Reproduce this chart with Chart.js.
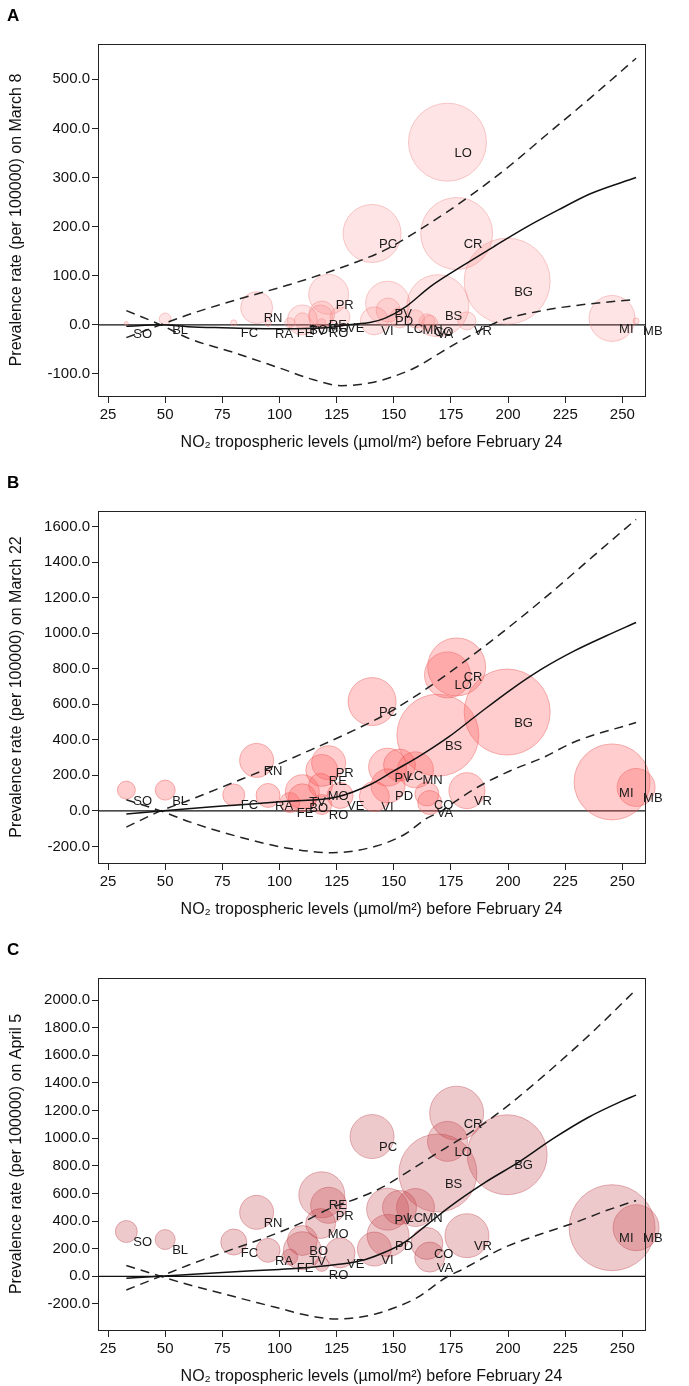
<!DOCTYPE html>
<html>
<head>
<meta charset="utf-8">
<title>Prevalence vs NO2</title>
<script src="https://cdn.jsdelivr.net/npm/chart.js@4.4.1/dist/chart.umd.min.js"></script>
<style>
    body { margin: 0; background: #fff; }
    .panel { position: absolute; left: 0; width: 689px; height: 452px; }
</style>
</head>
<body>
<div class="panel" style="top:0px"><canvas id="chartA" width="689" height="452"></canvas></div>
<div class="panel" style="top:467px"><canvas id="chartB" width="689" height="452"></canvas></div>
<div class="panel" style="top:934px"><canvas id="chartC" width="689" height="452"></canvas></div>
<script>
// Province codes and NO2 levels (umol/m2) before February 24
const provinces = ['SO','BL','FC','RN','RA','FE','TV','BO','MO','RE','RO','PR','VE','PC','VI','PV','PD','LC','MN','CO','VA','BS','LO','CR','VR','BG','MI','MB'];
const no2Levels = [33, 50, 80, 90, 95, 104.5, 110, 110, 118, 118.5, 118.5, 121.5, 126.5, 140.5, 141.5, 147.3, 147.5, 152.5, 159.5, 164.5, 165.7, 169.3, 173.5, 177.5, 182, 199.6, 245.5, 256];
const xTicks = [25, 50, 75, 100, 125, 150, 175, 200, 225, 250];

// Panel A - March 8
const yTicksA = [-100, 0, 100, 200, 300, 400, 500];
const prevMarch8  = [3, 12, 4, 35, 3, 4, 8, 10, 16, 22, 4, 62, 16, 186, 8, 44, 30, 14, 12, 6, 3, 39, 372, 186, 8, 89, 13, 8];
const casesMarch8 = [2, 19, 5, 138, 5, 14, 35, 122, 78, 91, 9, 216, 54, 455, 106, 262, 78, 54, 44, 35, 35, 520, 823, 701, 44, 1000, 286, 5];
const fitXA   = [33, 48, 60, 75, 100, 120, 130, 140, 146, 155, 166, 180, 194, 208, 222, 236, 256];
const fitYA   = [-3, 0, -4, -6, -8, -6, 0, 5, 13, 36, 78, 120, 160, 199, 234, 267, 300];
const upperXA = [33, 48, 61, 82, 103, 118, 132, 146, 160, 174, 187, 201, 215, 238, 256];
const upperYA = [-26, 0, 22, 52, 80, 102, 125, 152, 190, 232, 275, 325, 380, 470, 543];
const lowerXA = [33, 48, 61, 79, 100, 115, 127, 140, 150, 159, 171, 183, 196, 215, 229, 256];
const lowerYA = [29, 0, -29, -55, -88, -112, -124, -118, -105, -88, -55, -23, 7, 29, 39, 52];

// Panel B - March 22
const yTicksB = [-200, 0, 200, 400, 600, 800, 1000, 1200, 1400, 1600];
const prevMarch22  = [117, 117, 90, 284, 87, 47, 108, 74, 144, 228, 36, 271, 87, 615, 81, 246, 141, 258, 231, 95, 47, 426, 765, 810, 114, 556, 163, 132];
const casesMarch22 = [285, 352, 425, 1016, 506, 352, 1016, 689, 506, 900, 352, 1016, 594, 2025, 791, 1269, 1016, 900, 1139, 506, 506, 5909, 1859, 2956, 1139, 6500, 5076, 1269];
const fitXB   = [33, 48, 75, 103, 125, 140, 150, 160, 174, 187, 201, 215, 229, 243, 256];
const fitYB   = [-18, 0, 27, 54, 78, 150, 225, 298, 416, 545, 680, 800, 900, 985, 1060];
const upperXB = [33, 48, 61, 82, 97, 114, 132, 146, 160, 174, 187, 201, 219, 237, 256];
const upperYB = [-91, 0, 63, 171, 250, 345, 450, 540, 650, 775, 900, 1040, 1230, 1430, 1640];
const lowerXB = [33, 48, 61, 82, 103, 123, 142, 155, 164, 171, 176, 187, 201, 215, 229, 256];
const lowerYB = [63, 0, -63, -145, -208, -235, -199, -130, -45, 0, 45, 136, 226, 298, 388, 497];

// Panel C - April 5
const yTicksC = [-200, 0, 200, 400, 600, 800, 1000, 1200, 1400, 1600, 1800, 2000];
const prevApril5  = [324, 266, 248, 463, 188, 139, 185, 259, 382, 590, 86, 514, 169, 1012, 197, 486, 296, 498, 498, 238, 139, 748, 977, 1181, 294, 880, 352, 352];
const casesApril5 = [654, 541, 914, 1563, 779, 346, 1952, 1217, 1217, 2861, 265, 1752, 1217, 2618, 1563, 2385, 2385, 1563, 1952, 1385, 1217, 8226, 2163, 3943, 2618, 8653, 10000, 2861];
const fitXC   = [33, 48, 75, 100, 110, 125, 135, 145, 155, 165, 175, 190, 205, 220, 235, 250, 256];
const fitYC   = [-14, 0, 28, 50, 60, 85, 110, 167, 250, 380, 510, 680, 830, 1000, 1150, 1270, 1312];
const upperXC = [33, 48, 60, 75, 95, 110, 122, 135, 145, 159, 166, 183, 196, 208, 221, 237, 256];
const upperYC = [-99, 0, 80, 170, 287, 390, 491, 570, 645, 787, 861, 1035, 1185, 1345, 1530, 1770, 2076];
const lowerXC = [33, 48, 60, 75, 90, 100, 112, 125, 135, 142, 150, 160, 173, 180, 190, 200, 215, 229, 242, 256];
const lowerYC = [78, 0, -60, -125, -190, -232, -282, -310, -297, -273, -230, -157, -7, 50, 140, 220, 310, 387, 470, 549];

const FONT = '"Liberation Sans", Arial, Helvetica, sans-serif';
const MAX_BUBBLE_R = 43;

// Helpers
function toPoints(xs, ys) {
    return xs.map((x, i) => ({ x: x, y: ys[i] }));
}

function bubblePoints(prev, cases) {
    const maxCases = Math.max(...cases);
    return no2Levels.map((x, i) => ({
        x: x,
        y: prev[i],
        r: MAX_BUBBLE_R * Math.sqrt(cases[i] / maxCases),
        label: provinces[i]
    }));
}

function fixedTicks(values) {
    return scale => { scale.ticks = values.map(v => ({ value: v })); };
}

// Draws zero line, frame, panel letter and the province labels
const decorPlugin = {
    id: 'decor',
    beforeDatasetsDraw(chart) {
        const { ctx, chartArea, scales } = chart;
        const y0 = scales.y.getPixelForValue(0);
        ctx.save();
        ctx.strokeStyle = '#111';
        ctx.lineWidth = 1.3;
        ctx.beginPath();
        ctx.moveTo(chartArea.left, y0);
        ctx.lineTo(chartArea.right, y0);
        ctx.stroke();
        ctx.restore();
    },
    afterDatasetsDraw(chart, args, opts) {
        const { ctx, chartArea } = chart;
        ctx.save();
        // province labels
        const meta = chart.getDatasetMeta(0);
        ctx.font = '13px ' + FONT;
        ctx.fillStyle = '#1a1a1a';
        ctx.textAlign = 'left';
        ctx.textBaseline = 'middle';
        meta.data.forEach((el, i) => {
            const raw = chart.data.datasets[0].data[i];
            ctx.fillText(raw.label, el.x + 7, el.y + 11);
        });
        // frame
        ctx.strokeStyle = '#222';
        ctx.lineWidth = 1;
        ctx.strokeRect(chartArea.left + 0.5, chartArea.top + 0.5,
                       chartArea.right - chartArea.left, chartArea.bottom - chartArea.top);
        // panel letter
        ctx.font = 'bold 17px ' + FONT;
        ctx.fillStyle = '#000';
        ctx.textBaseline = 'middle';
        ctx.fillText(opts.letter, 7, 16);
        ctx.restore();
    }
};

function makePanel(canvasId, letter, dateText, prev, cases, fit, upper, lower, yMin, yMax, yTicks, fill, border) {
    const ctx = document.getElementById(canvasId).getContext('2d');
    const lineCommon = {
        type: 'line',
        showLine: true,
        pointRadius: 0,
        borderWidth: 1.5,
        fill: false,
        cubicInterpolationMode: 'monotone',
        order: 1
    };
    return new Chart(ctx, {
        type: 'bubble',
        data: {
            datasets: [
                {
                    label: 'Provinces',
                    data: bubblePoints(prev, cases),
                    backgroundColor: fill,
                    borderColor: border,
                    borderWidth: 1,
                    clip: false,
                    order: 2
                },
                Object.assign({}, lineCommon, {
                    label: 'Fit',
                    data: toPoints(fit[0], fit[1]),
                    borderColor: '#111'
                }),
                Object.assign({}, lineCommon, {
                    label: 'Upper',
                    data: toPoints(upper[0], upper[1]),
                    borderColor: '#222',
                    borderDash: [9, 6]
                }),
                Object.assign({}, lineCommon, {
                    label: 'Lower',
                    data: toPoints(lower[0], lower[1]),
                    borderColor: '#222',
                    borderDash: [9, 6]
                })
            ]
        },
        options: {
            responsive: false,
            animation: false,
            devicePixelRatio: 1,
            layout: { padding: { top: 29, right: 19, left: 0, bottom: 0 } },
            plugins: {
                legend: { display: false },
                tooltip: { enabled: false },
                decor: { letter: letter }
            },
            scales: {
                x: {
                    type: 'linear',
                    min: 20.6,
                    max: 259.9,
                    afterBuildTicks: fixedTicks(xTicks),
                    afterFit: s => { s.height = 56; },
                    border: { display: false },
                    grid: { drawOnChartArea: false, drawTicks: true, tickLength: 7, color: '#222' },
                    ticks: {
                        padding: 3,
                        color: '#111',
                        font: { family: FONT, size: 15 },
                        callback: v => v
                    },
                    title: {
                        display: true,
                        text: 'NO₂ tropospheric levels (µmol/m²) before February 24',
                        color: '#111',
                        font: { family: FONT, size: 16 },
                        padding: { top: 0, bottom: 0 }
                    }
                },
                y: {
                    type: 'linear',
                    min: yMin,
                    max: yMax,
                    afterBuildTicks: fixedTicks(yTicks),
                    afterFit: s => { s.width = 98; },
                    border: { display: false },
                    grid: { drawOnChartArea: false, drawTicks: true, tickLength: 6, color: '#222' },
                    ticks: {
                        padding: 2,
                        color: '#111',
                        font: { family: FONT, size: 15 },
                        callback: v => v.toFixed(1)
                    },
                    title: {
                        display: true,
                        text: 'Prevalence rate (per 100000) on ' + dateText,
                        color: '#111',
                        font: { family: FONT, size: 16 },
                        padding: { top: 7, bottom: 0 }
                    }
                }
            }
        },
        plugins: [decorPlugin]
    });
}

makePanel('chartA', 'A', 'March 8', prevMarch8, casesMarch8,
    [fitXA, fitYA], [upperXA, upperYA], [lowerXA, lowerYA],
    -145, 572, yTicksA, 'rgba(250, 120, 120, 0.2)', 'rgba(240, 140, 140, 0.45)');

makePanel('chartB', 'B', 'March 22', prevMarch22, casesMarch22,
    [fitXB, fitYB], [upperXB, upperYB], [lowerXB, lowerYB],
    -293, 1687, yTicksB, 'rgba(255, 90, 90, 0.3)', 'rgba(235, 90, 90, 0.45)');

makePanel('chartC', 'C', 'April 5', prevApril5, casesApril5,
    [fitXC, fitYC], [upperXC, upperYC], [lowerXC, lowerYC],
    -389, 2160, yTicksC, 'rgba(195, 60, 70, 0.28)', 'rgba(190, 70, 80, 0.4)');
</script>
</body>
</html>
